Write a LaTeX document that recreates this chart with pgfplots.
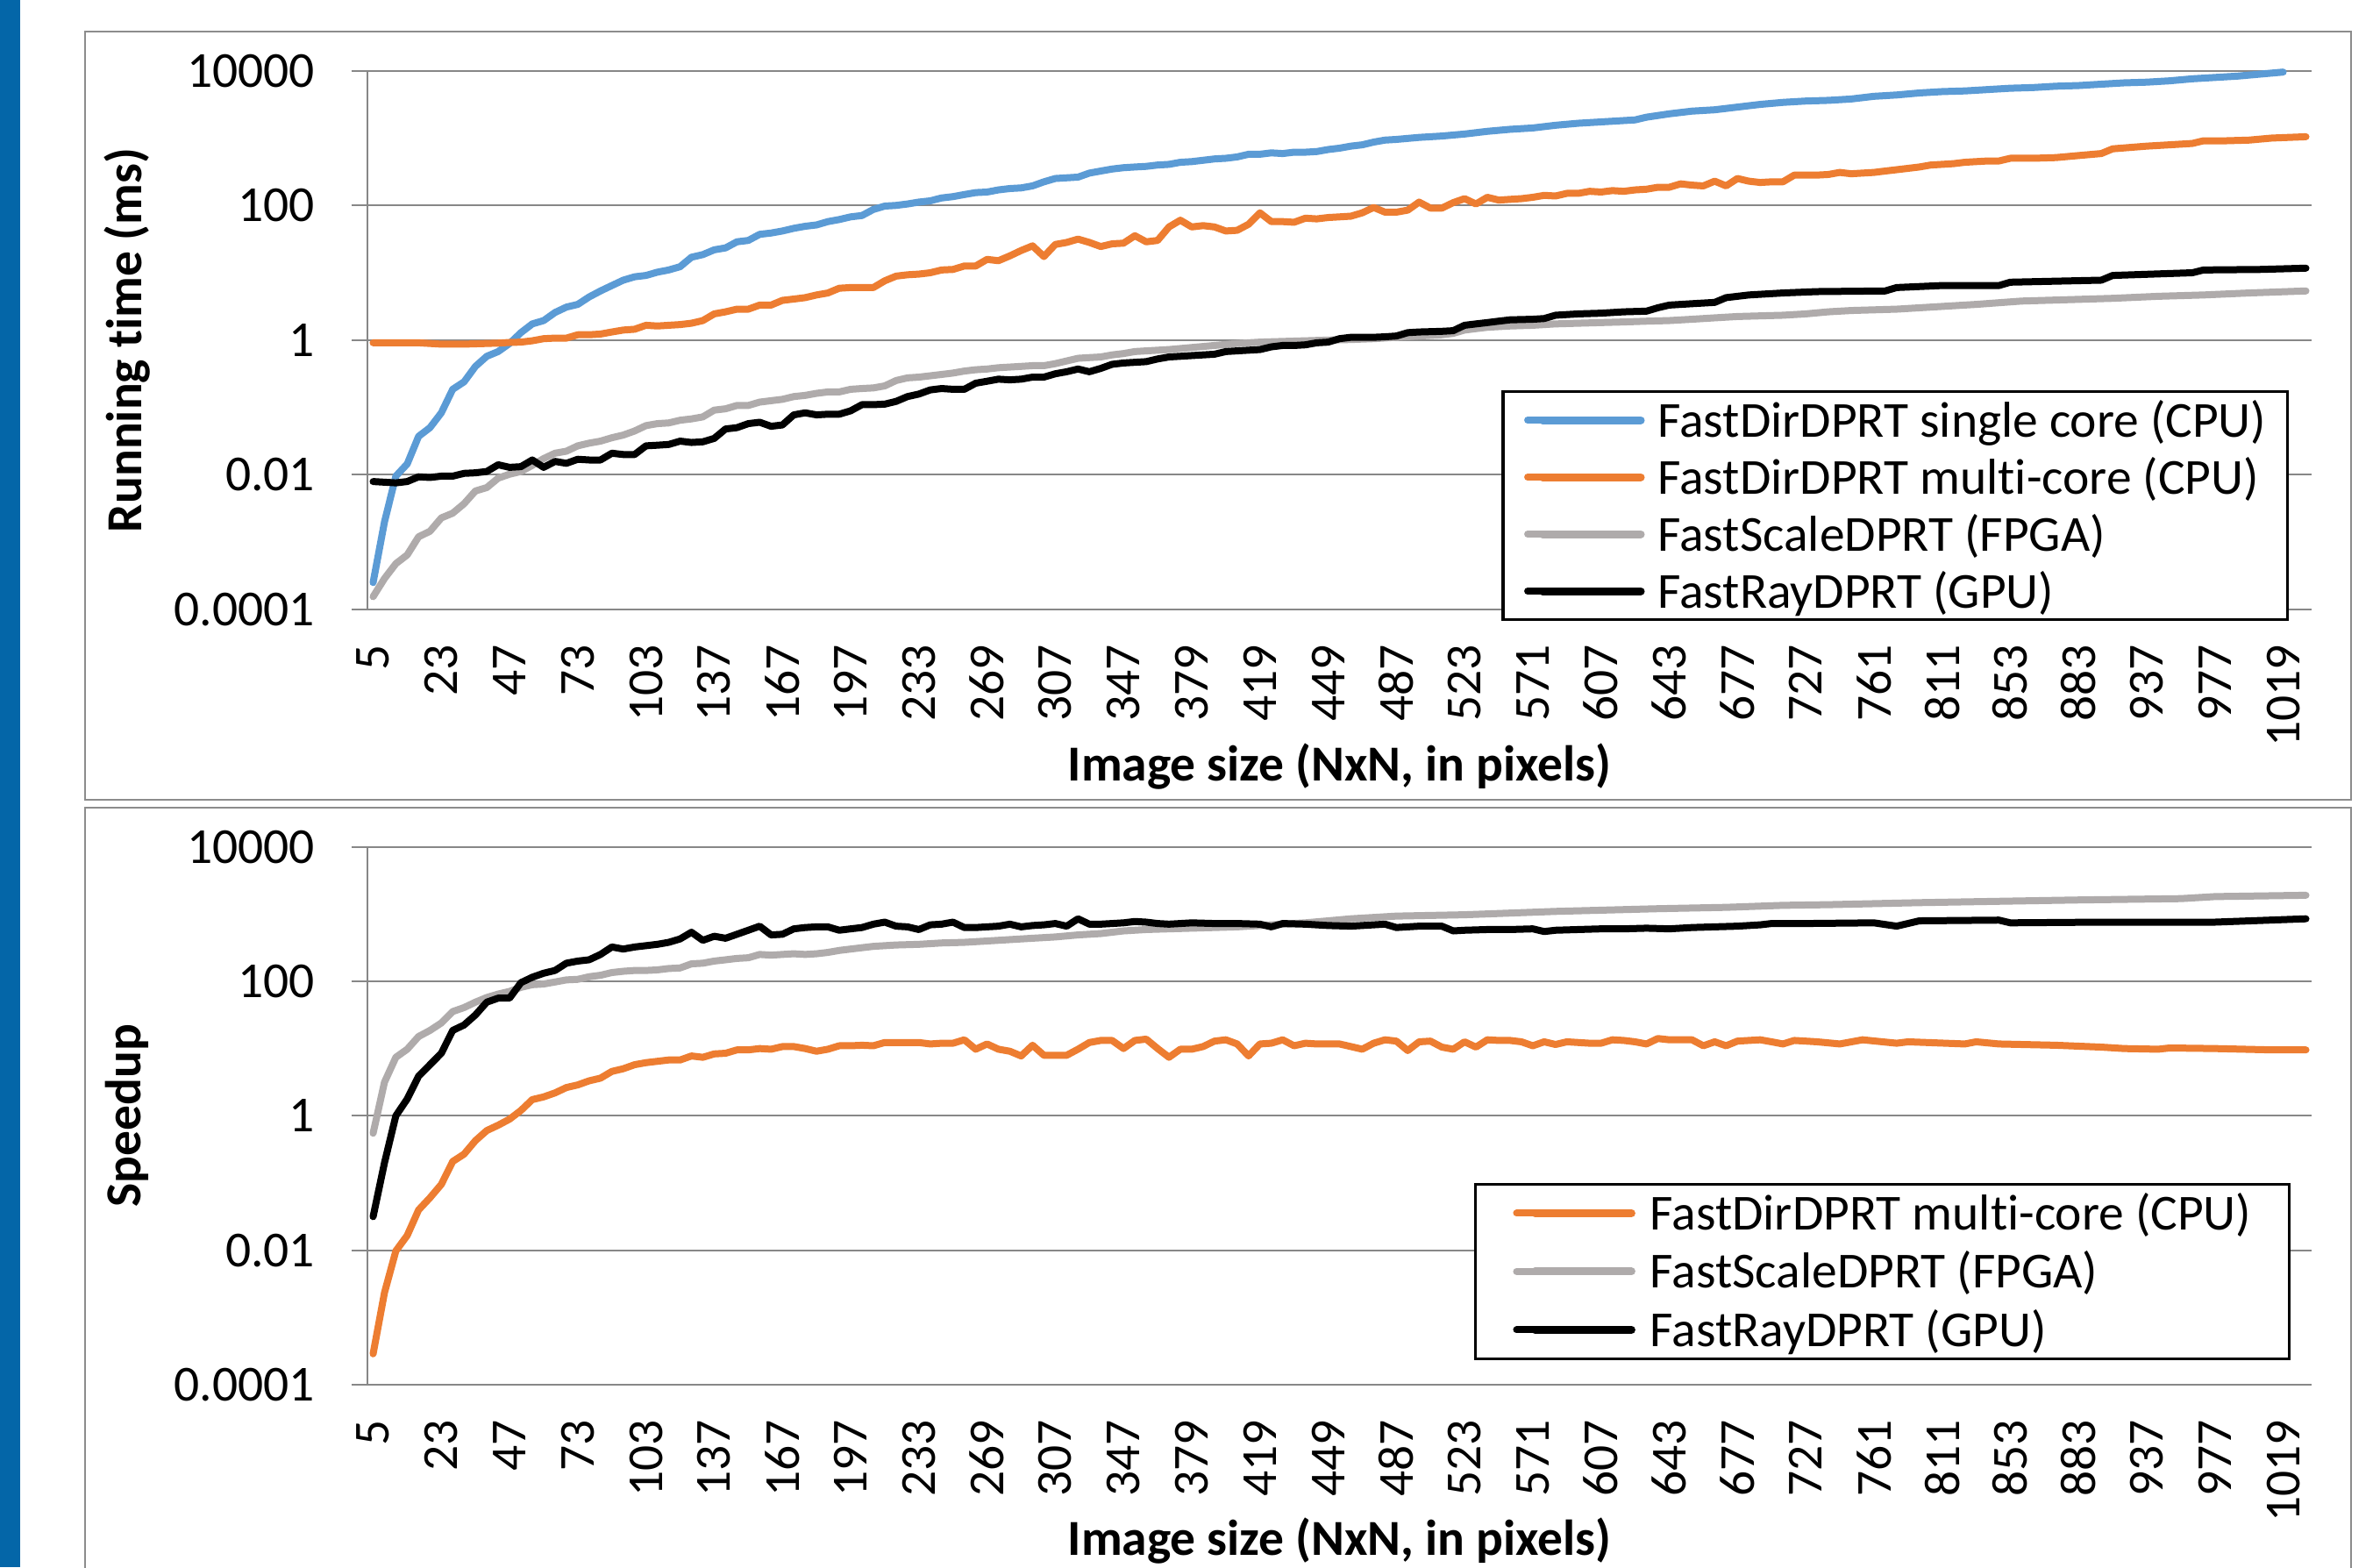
\documentclass[border=0pt]{standalone}
\usepackage{pgfplots}
\pgfplotsset{compat=1.18}
\usepackage{fontspec}
\setmainfont{Carlito}[Ligatures=NoCommon]
\definecolor{sblue}{HTML}{5B9BD5}
\definecolor{sorange}{HTML}{ED7D31}
\definecolor{sgray}{HTML}{AFABAB}
\definecolor{gridgray}{HTML}{878787}
\definecolor{framegray}{HTML}{8C8C8C}
\definecolor{barblue}{HTML}{0466A8}
\newcommand{\chartfont}{\fontsize{17.25bp}{20bp}\selectfont}
\begin{document}
\begin{tikzpicture}
\useasboundingbox (0bp,0bp) rectangle (814.2bp,536.1bp);
\fill[white] (0bp,0bp) rectangle (814.2bp,536.1bp);
\fill[barblue] (0bp,0bp) rectangle (6.9bp,536.1bp);
\draw[framegray, line width=0.6bp] (29.1bp,262.5bp) rectangle (804.3bp,525.3bp);
\draw[framegray, line width=0.6bp] (29.1bp,-20bp) rectangle (804.3bp,259.8bp);

\begin{axis}[
    ymode=log,
    scale only axis, width=665.1bp, height=184.3bp,
    at={(125.7bp,327.6bp)}, anchor=south west,
    xmin=-0.5, xmax=170.5, ymin=1e-4, ymax=1e4,
    ytick={1e-4,1e-2,1,1e2,1e4}, yticklabels={0.0001,0.01,1,100,10000},
    yminorticks=false,
    xtick={0,6,...,168},
    xticklabels={5,23,47,73,103,137,167,197,233,269,307,347,379,419,449,487,523,571,607,643,677,727,761,811,853,883,937,977,1019},
    axis x line*=bottom, axis y line*=left,
    axis line style={-, draw=gridgray, line width=0.6bp},
    ymajorgrids, grid style={gridgray, line width=0.6bp},
    tick align=outside, major tick length=5.4bp,
    ytick style={gridgray, line width=0.6bp},
    xtick style={draw=none},
    tick label style={font=\chartfont},
    label style={font=\chartfont\bfseries},
    yticklabel style={anchor=east, inner sep=0bp, xshift=-12.4bp},
    xticklabel style={rotate=90, anchor=east, inner sep=0bp, xshift=-6.5bp},
    ylabel style={at={(axis description cs:-0.1236,0.5)}, anchor=center},
    xlabel style={at={(axis description cs:0.5,-0.291)}, anchor=center},
    clip=false,
    every axis plot/.append style={line width=2.4bp, line join=round, line cap=round},
    legend cell align=left,
    xlabel={Image size (NxN, in pixels)}, ylabel={Running time (ms)},
    legend image code/.code={\path (0bp,0bp) -- (5.1bp,0bp); \draw[#1, line width=2.7bp, line cap=round] (5.1bp,0bp) -- (38.7bp,0bp);},
    legend style={at={(axis description cs:0.9883,0.407)}, anchor=north east, draw=black, line width=1bp, fill=white,
      inner xsep=7.2bp, inner ysep=0bp, row sep=0bp, font=\chartfont,
      nodes={inner sep=0bp, text height=15.45bp, text depth=4.05bp},
      /tikz/every odd column/.append style={column sep=4.5bp}},
]
\addplot[sblue, no marks] coordinates {
(0,2.51e-4)(1,2.0e-3)(2,9.55e-3)(3,1.45e-2)(4,3.72e-2)(5,5.01e-2)(6,8.32e-2)(7,0.186)(8,0.240)(9,0.407)(10,0.575)(11,0.676)(12,0.891)(13,1.29)(14,1.74)(15,1.95)(16,2.57)(17,3.09)(18,3.39)(19,4.37)(20,5.37)(21,6.46)(22,7.76)(23,8.71)(24,9.12)(25,10.2)(26,11.0)(27,12.3)(28,17.0)(29,18.6)(30,21.9)(31,23.4)(32,28.8)(33,30.2)(34,37.2)(35,38.9)(36,41.7)(37,45.7)(38,49.0)(39,51.3)(40,57.5)(41,61.7)(42,67.6)(43,70.8)(44,87.1)(45,97.7)(46,100)(47,105)(48,112)(49,117)(50,129)(51,135)(52,145)(53,155)(54,158)(55,170)(56,178)(57,182)(58,195)(59,224)(60,251)(61,257)(62,263)(63,302)(64,324)(65,347)(66,363)(67,372)(68,380)(69,398)(70,407)(71,437)(72,447)(73,468)(74,490)(75,501)(76,525)(77,575)(78,575)(79,603)(80,589)(81,617)(82,617)(83,631)(84,676)(85,708)(86,759)(87,794)(88,871)(89,933)(90,955)(92,1023)(94,1072)(96,1148)(98,1259)(100,1349)(102,1413)(104,1549)(106,1660)(108,1738)(110,1820)(111,1862)(112,2042)(114,2291)(116,2512)(118,2630)(120,2884)(122,3162)(124,3388)(126,3548)(128,3631)(130,3802)(132,4169)(134,4365)(136,4677)(138,4898)(140,5012)(142,5248)(144,5495)(146,5623)(148,5888)(150,6026)(152,6310)(154,6607)(156,6761)(158,7079)(160,7586)(162,7943)(164,8318)(166,8913)(168,9550)
};
\addlegendentry{FastDirDPRT single core (CPU)}
\addplot[sorange, no marks] coordinates {
(0,0.912)(1,0.912)(2,0.912)(3,0.912)(4,0.912)(5,0.891)(6,0.871)(7,0.871)(8,0.871)(9,0.881)(10,0.891)(11,0.902)(12,0.923)(13,0.933)(14,0.977)(15,1.05)(16,1.07)(17,1.07)(18,1.20)(19,1.20)(20,1.23)(21,1.32)(22,1.41)(23,1.45)(24,1.66)(25,1.62)(26,1.66)(27,1.70)(28,1.78)(29,1.95)(30,2.45)(31,2.63)(32,2.88)(33,2.88)(34,3.31)(35,3.31)(36,3.89)(37,4.07)(38,4.27)(39,4.68)(40,5.01)(41,5.89)(42,6.03)(43,6.03)(44,6.03)(45,7.59)(46,8.91)(47,9.33)(48,9.55)(49,10.0)(50,11.0)(51,11.2)(52,12.6)(53,12.6)(54,15.8)(55,15.1)(56,17.8)(57,21.4)(58,25.1)(59,17.4)(60,26.3)(61,28.2)(62,31.6)(63,28.2)(64,24.5)(65,26.9)(66,27.5)(67,35.5)(68,28.8)(69,30.2)(70,47.9)(71,60.3)(72,47.9)(73,50.1)(74,47.9)(75,41.7)(76,42.7)(77,52.5)(78,77.6)(79,57.5)(80,57.5)(81,56.2)(82,64.6)(83,63.1)(84,66.1)(85,67.6)(86,69.2)(87,77.6)(88,93.3)(89,79.4)(90,79.4)(91,85.1)(92,112)(93,91.2)(94,91.2)(95,110)(96,126)(97,105)(98,132)(99,120)(100,123)(101,126)(102,132)(103,141)(104,138)(105,151)(106,151)(107,162)(108,158)(109,166)(110,162)(111,170)(112,174)(113,186)(114,186)(115,209)(116,200)(117,195)(118,229)(119,195)(120,251)(121,229)(122,219)(123,224)(124,224)(125,282)(126,282)(127,282)(128,288)(129,309)(130,295)(131,302)(132,309)(133,324)(134,339)(135,355)(136,372)(137,398)(138,407)(139,417)(140,437)(141,447)(142,457)(143,457)(144,501)(146,501)(148,513)(150,550)(152,589)(153,692)(156,759)(158,794)(160,832)(161,912)(163,912)(165,933)(167,1000)(170,1047)
};
\addlegendentry{FastDirDPRT multi-core (CPU)}
\addplot[sgray, no marks] coordinates {
(0,1.55e-4)(1,2.88e-4)(2,4.79e-4)(3,6.46e-4)(4,1.20e-3)(5,1.45e-3)(6,2.29e-3)(7,2.69e-3)(8,3.72e-3)(9,5.75e-3)(10,6.46e-3)(11,8.91e-3)(12,1.02e-2)(13,1.12e-2)(14,1.38e-2)(15,1.74e-2)(16,2.09e-2)(17,2.24e-2)(18,2.69e-2)(19,2.95e-2)(20,3.16e-2)(21,3.55e-2)(22,3.89e-2)(23,4.47e-2)(24,5.37e-2)(25,5.75e-2)(26,5.89e-2)(27,6.46e-2)(28,6.76e-2)(29,7.24e-2)(30,9.12e-2)(31,9.55e-2)(32,0.107)(33,0.107)(34,0.120)(35,0.126)(36,0.132)(37,0.145)(38,0.151)(39,0.162)(40,0.170)(41,0.170)(42,0.186)(43,0.191)(44,0.195)(45,0.209)(46,0.251)(47,0.275)(48,0.282)(49,0.295)(50,0.309)(51,0.324)(52,0.347)(53,0.363)(54,0.372)(55,0.389)(56,0.398)(57,0.407)(58,0.417)(59,0.417)(60,0.447)(61,0.490)(62,0.537)(63,0.550)(64,0.562)(65,0.603)(66,0.631)(67,0.676)(68,0.692)(70,0.724)(72,0.776)(74,0.832)(76,0.891)(78,0.933)(80,0.955)(82,0.977)(84,1.00)(86,1.02)(88,1.05)(90,1.10)(92,1.15)(94,1.20)(95,1.26)(96,1.41)(97,1.48)(98,1.55)(100,1.62)(102,1.66)(104,1.74)(106,1.78)(108,1.82)(110,1.86)(112,1.91)(114,1.95)(116,2.04)(118,2.14)(120,2.24)(122,2.29)(124,2.34)(126,2.45)(128,2.63)(130,2.75)(134,2.88)(137,3.09)(141,3.39)(145,3.80)(149,3.98)(153,4.17)(157,4.47)(161,4.68)(165,5.01)(170,5.37)
};
\addlegendentry{FastScaleDPRT (FPGA)}
\addplot[black, no marks] coordinates {
(0,7.94e-3)(1,7.76e-3)(2,7.59e-3)(3,7.94e-3)(4,9.33e-3)(5,9.12e-3)(6,9.55e-3)(7,9.55e-3)(8,1.05e-2)(9,1.07e-2)(10,1.12e-2)(11,1.41e-2)(12,1.29e-2)(13,1.32e-2)(14,1.66e-2)(15,1.29e-2)(16,1.58e-2)(17,1.48e-2)(18,1.70e-2)(19,1.66e-2)(20,1.66e-2)(21,2.09e-2)(22,2.00e-2)(23,2.00e-2)(24,2.69e-2)(25,2.75e-2)(26,2.82e-2)(27,3.16e-2)(28,3.02e-2)(29,3.09e-2)(30,3.47e-2)(31,4.79e-2)(32,5.01e-2)(33,5.75e-2)(34,6.03e-2)(35,5.25e-2)(36,5.50e-2)(37,7.76e-2)(38,8.32e-2)(39,7.76e-2)(40,7.94e-2)(41,7.94e-2)(42,8.91e-2)(43,0.110)(44,0.110)(45,0.112)(46,0.123)(47,0.145)(48,0.158)(49,0.182)(50,0.191)(51,0.186)(52,0.186)(53,0.229)(54,0.245)(55,0.263)(56,0.257)(57,0.263)(58,0.282)(59,0.282)(60,0.316)(61,0.339)(62,0.372)(63,0.339)(64,0.380)(65,0.437)(66,0.457)(67,0.468)(68,0.479)(69,0.525)(70,0.562)(71,0.575)(72,0.589)(73,0.603)(74,0.617)(75,0.676)(76,0.692)(77,0.708)(78,0.724)(79,0.794)(80,0.832)(81,0.832)(82,0.851)(83,0.912)(84,0.933)(85,1.05)(86,1.10)(88,1.10)(89,1.12)(90,1.15)(91,1.29)(92,1.32)(94,1.35)(95,1.38)(96,1.66)(97,1.74)(98,1.82)(99,1.91)(100,2.00)(102,2.04)(103,2.09)(104,2.34)(106,2.45)(108,2.51)(110,2.63)(112,2.69)(113,3.02)(114,3.31)(116,3.47)(118,3.63)(119,4.27)(121,4.68)(124,5.01)(127,5.25)(133,5.37)(134,6.03)(138,6.46)(143,6.46)(144,7.24)(152,7.76)(153,9.12)(160,10.0)(161,11.0)(166,11.2)(170,11.7)
};
\addlegendentry{FastRayDPRT (GPU)}
\end{axis}

\begin{axis}[
    ymode=log,
    scale only axis, width=665.1bp, height=184.0bp,
    at={(125.7bp,62.4bp)}, anchor=south west,
    xmin=-0.5, xmax=170.5, ymin=1e-4, ymax=1e4,
    ytick={1e-4,1e-2,1,1e2,1e4}, yticklabels={0.0001,0.01,1,100,10000},
    yminorticks=false,
    xtick={0,6,...,168},
    xticklabels={5,23,47,73,103,137,167,197,233,269,307,347,379,419,449,487,523,571,607,643,677,727,761,811,853,883,937,977,1019},
    axis x line*=bottom, axis y line*=left,
    axis line style={-, draw=gridgray, line width=0.6bp},
    ymajorgrids, grid style={gridgray, line width=0.6bp},
    tick align=outside, major tick length=5.4bp,
    ytick style={gridgray, line width=0.6bp},
    xtick style={draw=none},
    tick label style={font=\chartfont},
    label style={font=\chartfont\bfseries},
    yticklabel style={anchor=east, inner sep=0bp, xshift=-12.4bp},
    xticklabel style={rotate=90, anchor=east, inner sep=0bp, xshift=-6.5bp},
    ylabel style={at={(axis description cs:-0.1236,0.5)}, anchor=center},
    xlabel style={at={(axis description cs:0.5,-0.290)}, anchor=center},
    clip=false,
    every axis plot/.append style={line width=2.4bp, line join=round, line cap=round},
    legend cell align=left,
    xlabel={Image size (NxN, in pixels)}, ylabel={Speedup},
    legend image code/.code={\path (0bp,0bp) -- (6.3bp,0bp); \draw[#1, line width=2.7bp, line cap=round] (6.3bp,0bp) -- (39.3bp,0bp);},
    legend style={at={(axis description cs:0.9892,0.3758)}, anchor=north east, draw=black, line width=1bp, fill=white,
      inner xsep=12.9bp, inner ysep=0bp, row sep=0bp, font=\chartfont,
      nodes={inner sep=0bp, text height=15.6bp, text depth=4.35bp},
      /tikz/every odd column/.append style={column sep=5.1bp}},
]
\addplot[sorange, no marks] coordinates {
(0,2.88e-4)(1,2.34e-3)(2,9.77e-3)(3,1.66e-2)(4,3.98e-2)(5,6.03e-2)(6,9.55e-2)(7,0.209)(8,0.269)(9,0.427)(10,0.603)(11,0.724)(12,0.891)(13,1.20)(14,1.74)(15,1.91)(16,2.19)(17,2.63)(18,2.88)(19,3.31)(20,3.63)(21,4.57)(22,5.01)(23,5.75)(24,6.17)(25,6.46)(26,6.76)(27,6.76)(28,7.76)(29,7.41)(30,8.32)(31,8.51)(32,9.55)(33,9.55)(34,10.0)(35,9.77)(36,10.7)(37,10.7)(38,10.0)(39,9.12)(40,9.77)(41,11.0)(42,11.0)(43,11.2)(44,11.0)(45,12.3)(46,12.3)(47,12.3)(48,12.3)(49,11.7)(50,12.0)(51,12.0)(52,13.5)(53,9.77)(54,11.7)(55,9.77)(56,9.12)(57,7.76)(58,11.2)(59,7.94)(60,7.94)(61,7.94)(62,9.77)(63,12.3)(64,13.2)(65,13.2)(66,10.0)(67,13.2)(68,13.8)(69,10.0)(70,7.41)(71,9.77)(72,9.77)(73,10.7)(74,12.9)(75,13.5)(76,11.7)(77,7.76)(78,11.7)(79,12.0)(80,13.5)(81,11.0)(82,12.0)(83,11.7)(84,11.7)(85,11.7)(86,10.7)(87,9.77)(88,12.0)(89,13.5)(90,12.9)(91,9.33)(92,12.6)(93,12.9)(94,10.5)(95,9.77)(96,12.6)(97,10.5)(98,13.5)(99,13.2)(100,13.2)(101,12.6)(102,11.0)(103,12.6)(104,11.5)(105,12.6)(106,12.3)(107,12.0)(108,12.0)(109,13.5)(110,13.2)(111,12.6)(112,11.7)(113,14.1)(114,13.5)(115,13.5)(116,13.5)(117,11.0)(118,12.6)(119,11.0)(120,12.9)(121,13.2)(122,13.5)(123,12.6)(124,11.7)(125,13.2)(126,12.9)(127,12.6)(129,11.7)(131,13.5)(134,12.0)(135,12.6)(140,11.7)(141,12.6)(143,11.7)(148,11.2)(152,10.5)(154,10.0)(157,9.77)(158,10.2)(162,10.0)(167,9.55)(170,9.55)
};
\addlegendentry{FastDirDPRT multi-core (CPU)}
\addplot[sgray, no marks] coordinates {
(0,0.550)(1,3.16)(2,7.41)(3,9.77)(4,15.1)(5,18.6)(6,24.0)(7,35.5)(8,40.7)(9,49.0)(10,57.5)(11,64.6)(12,70.8)(13,81.3)(14,89.1)(15,91.2)(16,97.7)(17,105)(18,107)(19,117)(20,123)(21,135)(22,141)(23,145)(24,145)(25,148)(26,155)(27,158)(28,182)(29,186)(30,200)(31,209)(32,219)(33,224)(34,251)(35,245)(36,251)(37,257)(38,251)(39,257)(40,269)(41,288)(42,302)(44,331)(46,347)(48,355)(50,372)(52,380)(54,398)(56,417)(58,437)(60,457)(62,490)(64,513)(66,562)(68,589)(70,603)(72,617)(74,631)(76,646)(78,676)(80,708)(82,741)(84,794)(86,851)(90,933)(96,977)(104,1096)(113,1202)(119,1259)(124,1349)(128,1380)(136,1479)(143,1549)(150,1622)(159,1698)(162,1820)(170,1905)
};
\addlegendentry{FastScaleDPRT (FPGA)}
\addplot[black, no marks] coordinates {
(0,3.16e-2)(1,0.200)(2,1.00)(3,1.78)(4,3.89)(5,5.75)(6,8.51)(7,18.6)(8,22.4)(9,31.6)(10,49.0)(11,56.2)(12,56.2)(13,95.5)(14,115)(15,132)(16,145)(17,186)(18,200)(19,209)(20,251)(21,324)(22,302)(23,324)(24,339)(25,355)(26,380)(27,427)(28,537)(29,407)(30,468)(31,437)(32,501)(33,575)(34,661)(35,490)(36,501)(37,603)(38,631)(39,646)(40,646)(41,575)(42,603)(43,631)(44,708)(45,759)(46,661)(47,646)(48,589)(49,692)(50,708)(51,759)(52,631)(53,631)(54,646)(55,661)(56,708)(57,646)(58,676)(59,692)(60,724)(61,661)(62,851)(63,708)(64,708)(65,724)(66,741)(67,776)(68,759)(69,724)(70,708)(71,724)(72,741)(74,724)(76,724)(78,708)(79,646)(80,724)(82,708)(84,676)(86,661)(88,692)(89,708)(90,631)(92,661)(94,661)(95,562)(96,575)(98,589)(100,589)(102,603)(103,550)(104,575)(106,589)(108,603)(110,603)(112,617)(114,603)(116,631)(118,646)(120,661)(122,692)(123,724)(126,724)(132,741)(134,661)(136,794)(143,813)(144,741)(152,759)(162,759)(170,851)
};
\addlegendentry{FastRayDPRT (GPU)}
\end{axis}
\end{tikzpicture}
\end{document}
